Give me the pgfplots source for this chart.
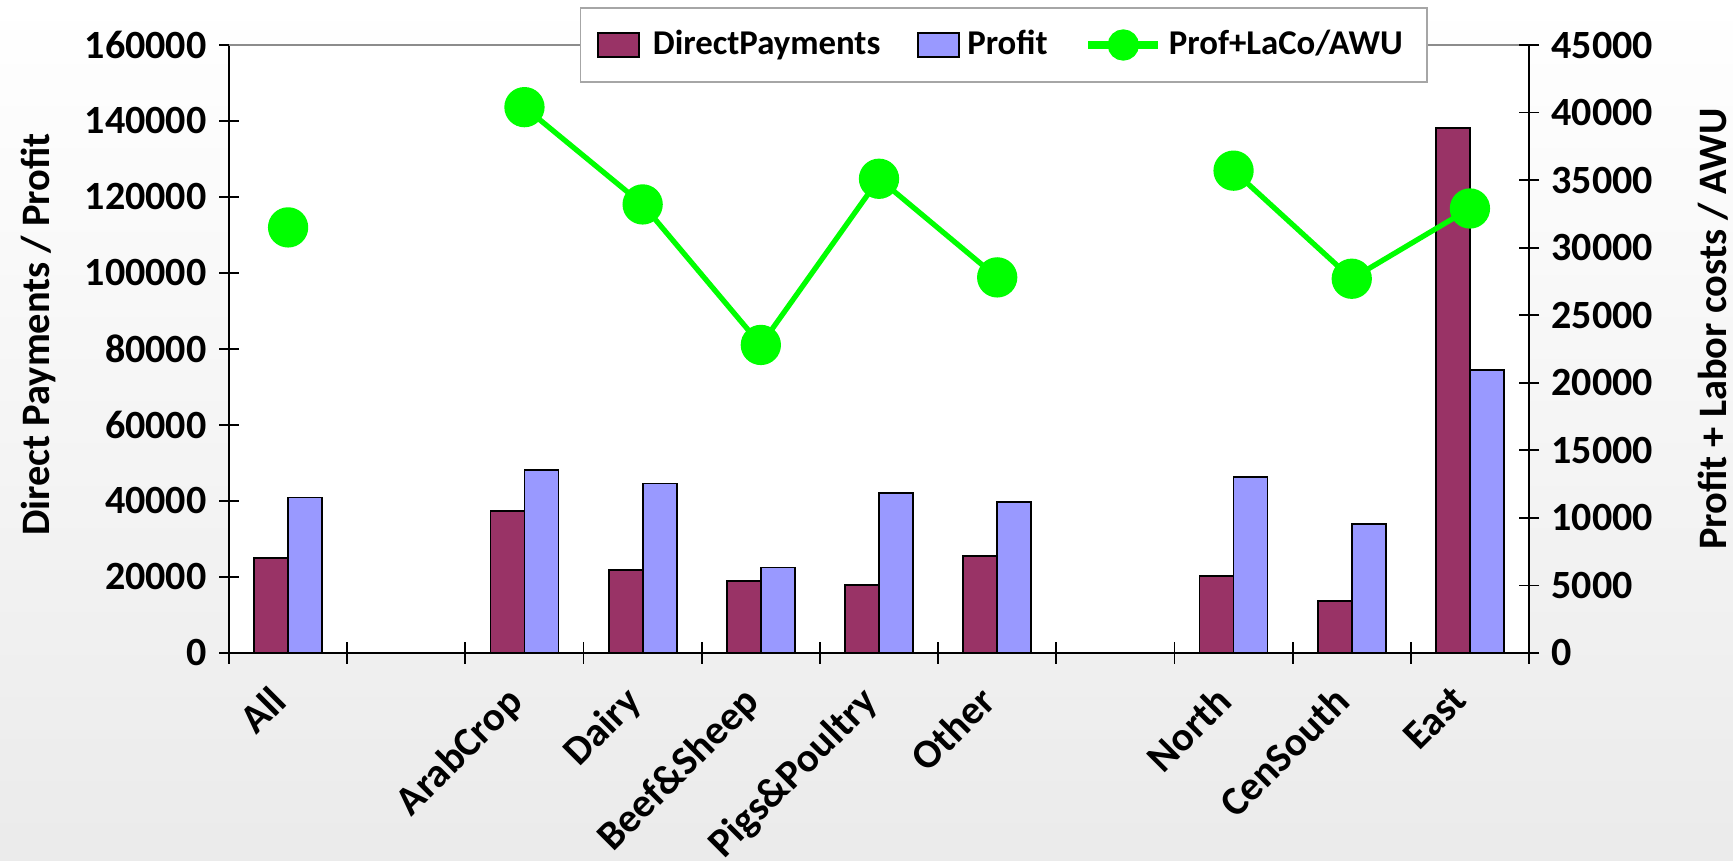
\documentclass[border=0pt]{standalone}
\usepackage{pgfplots}
\pgfplotsset{compat=1.18}
\usepackage{fontspec}
\setmainfont{Carlito}
\definecolor{dpcol}{HTML}{993366}
\definecolor{prcol}{HTML}{9999FF}
\definecolor{lncol}{HTML}{00FF00}
\begin{document}
\begin{tikzpicture}
\shade[top color=white, middle color=white, bottom color=black!8] (0mm,0mm) rectangle (173.3mm,86.1mm);
\begin{axis}[
  at={(22.9mm,20.8mm)}, anchor=south west,
  scale only axis, width=130mm, height=60.8mm,
  xmin=-0.5, xmax=10.5, ymin=0, ymax=160000,
  axis background/.style={fill=white},
  axis x line*=bottom, axis y line*=left,
  axis line style={-, black, line width=0.5pt},
  ybar=0pt, bar width=3.4mm,
  xtick={0,...,10},
  xticklabels={All,{},ArabCrop,Dairy,Beef\&Sheep,Pigs\&Poultry,Other,{},North,CenSouth,East},
  major x tick style={draw=none},
  minor xtick={-0.5,0.5,...,10.5},
  minor tick length=2.2mm,
  minor x tick style={black, line width=0.5pt},
  ytick={0,20000,...,160000},
  major tick length=2mm,
  tick align=center,
  ytick style={black, line width=0.5pt},
  /pgf/number format/fixed,
  /pgf/number format/precision=0,
  /pgf/number format/assume math mode=true,
  /pgf/number format/set thousands separator={},
  scaled y ticks=false,
  yticklabel style={font=\bfseries\fontsize{11.4}{13}\selectfont},
  xticklabel style={font=\bfseries\fontsize{11.6}{13}\selectfont, xshift=-2mm, rotate=45, anchor=north east, inner sep=0pt},
  xticklabel shift=2.0mm,
  clip=false,
]
\addplot[fill=dpcol, draw=black, line width=0.5pt] coordinates {
 (0,25000) (2,37400) (3,21900) (4,18900) (5,17800) (6,25500) (8,20200) (9,13600) (10,138100)};
\addplot[fill=prcol, draw=black, line width=0.5pt] coordinates {
 (0,40900) (2,48200) (3,44600) (4,22500) (5,42200) (6,39800) (8,46400) (9,33900) (10,74500)};
\draw[black!45, line width=0.6pt] (rel axis cs:0,1) -- (rel axis cs:1,1);
\end{axis}
\begin{axis}[
  at={(22.9mm,20.8mm)}, anchor=south west,
  scale only axis, width=130mm, height=60.8mm,
  xmin=-0.5, xmax=10.5, ymin=0, ymax=45000,
  axis x line=none, axis y line*=right,
  axis line style={-, black, line width=0.5pt},
  xtick=\empty,
  ytick={0,5000,...,45000},
  major tick length=2mm, tick align=center,
  ytick style={black, line width=0.5pt},
  /pgf/number format/fixed,
  /pgf/number format/precision=0,
  /pgf/number format/assume math mode=true,
  /pgf/number format/set thousands separator={},
  scaled y ticks=false,
  yticklabel style={font=\bfseries\fontsize{11.4}{13}\selectfont, anchor=west},
  unbounded coords=jump,
  clip=false,
  legend columns=3,
  legend style={at={(axis description cs:0.5958,1)}, anchor=center,
    draw=black!35, fill=white, font=\bfseries\fontsize{9.9}{11}\selectfont,
    /tikz/every even column/.append style={column sep=3mm},
    inner xsep=1.7mm, inner ysep=1.5mm},
]
\addlegendimage{legend image code/.code={\draw[fill=dpcol, draw=black, line width=0.5pt] (0mm,-1.2mm) rectangle (4.1mm,1.2mm); \path (4.7mm,0mm);}}
\addlegendentry{DirectPayments}
\addlegendimage{legend image code/.code={\draw[fill=prcol, draw=black, line width=0.5pt] (0mm,-1.2mm) rectangle (4.1mm,1.2mm);}}
\addlegendentry{Profit}
\addplot[lncol, line width=1.5pt, mark=*, mark size=1.75mm, mark options={fill=lncol, draw=none},
  legend image code/.code={\draw[lncol, line width=2pt] (0mm,0mm) -- (7mm,0mm); \fill[lncol] (3.5mm,0mm) circle (1.3mm);}]
 coordinates {(0,31500) (1,nan) (2,40400) (3,33200) (4,22800) (5,35100) (6,27800) (7,nan) (8,35700) (9,27700) (10,32900)};
\addlegendentry{Prof+LaCo/AWU}
\end{axis}
\node[rotate=90, font=\bfseries\fontsize{11.5}{13}\selectfont] at (3.87mm,52.65mm) {Direct Payments / Profit};
\node[rotate=90, font=\bfseries\fontsize{11.5}{13}\selectfont] at (171.3mm,53.2mm) {Profit + Labor costs / AWU};
\pgfresetboundingbox
\path (0mm,0mm) rectangle (173.3mm,86.1mm);
\end{tikzpicture}
\end{document}
